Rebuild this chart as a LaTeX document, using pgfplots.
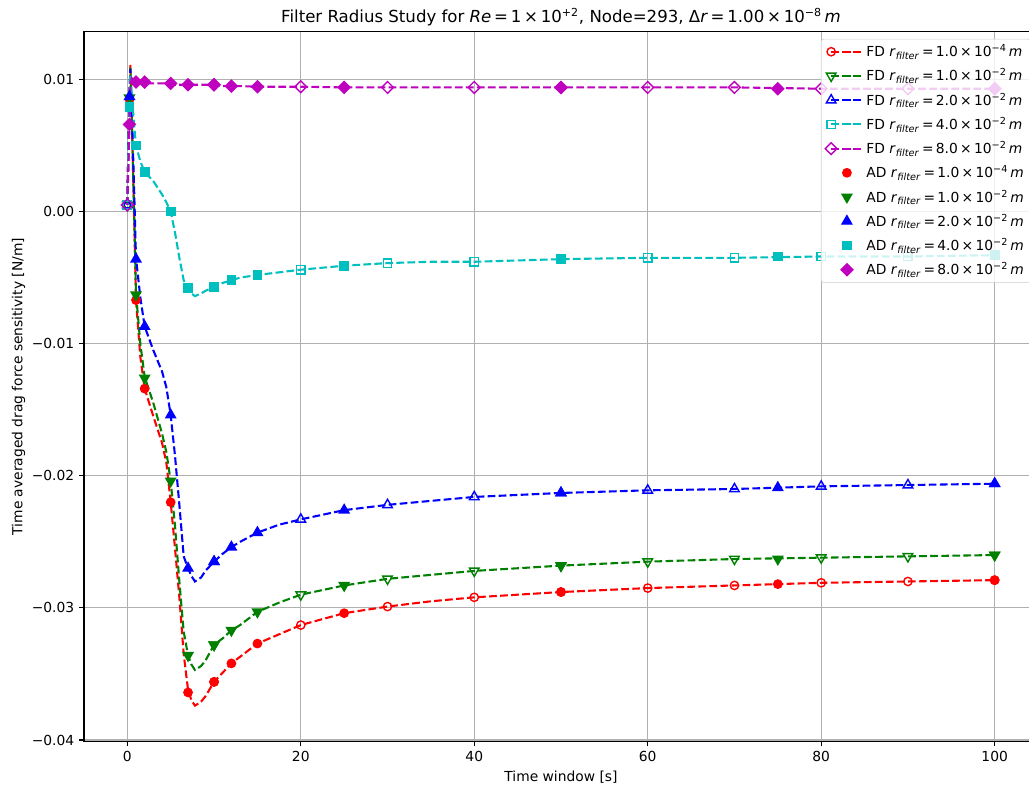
\documentclass[border=0pt]{standalone}
\usepackage{fontspec}
\setmainfont{DejaVu Sans}
\usepackage{pgfplots}
\usepackage{pgfplotstable}
\pgfplotsset{compat=1.18}
\definecolor{mplg}{rgb}{0,0.5,0}
\definecolor{mplc}{rgb}{0,0.75,0.75}
\definecolor{mplm}{rgb}{0.75,0,0.75}
\definecolor{gridc}{rgb}{0.69,0.69,0.69}
\newcommand{\rf}[2]{\textit{r}\textsubscript{\textit{filter}}\,=\,#1\,×\,10\textsuperscript{−#2}\,\textit{m}}

\pgfplotstableread{
x     r        g        b        c        m
0     0.0005   0.0005   0.0005   0.0005   0.0005
0.1   0.0040   0.0040   0.0040   0.0040   0.0030
0.25  0.0085   0.0086   0.0087   0.0079   0.0066
0.35  0.0111   0.0109   0.0108   0.0104   0.0095
0.5   0.0075   0.0075   0.0080   0.0090   0.0101
0.75  0.0005   0.0008   0.0025   0.0068   0.0099
1     -0.0067  -0.0062  -0.0035  0.0050   0.0098
1.5   -0.0110  -0.0100  -0.0065  0.0038   0.0098
2     -0.0134  -0.0125  -0.0087  0.0030   0.0097
3     -0.0155  -0.0145  -0.0105  0.0023   0.0097
4     -0.0175  -0.0168  -0.0121  0.0013   0.0097
4.5   -0.0190  -0.0182  -0.0133  0.0007   0.0097
5     -0.0220  -0.0204  -0.0154  0.0000   0.0097
5.5   -0.0255  -0.0238  -0.0185  -0.0016  0.0096
6     -0.0292  -0.0280  -0.0222  -0.0035  0.0096
6.5   -0.0335  -0.0318  -0.0261  -0.0052  0.0096
7     -0.0362  -0.0336  -0.0270  -0.0058  0.0096
7.4   -0.0370  -0.0343  -0.0276  -0.0062  0.0096
7.8   -0.0374  -0.0347  -0.0280  -0.0064  0.0096
8.5   -0.0371  -0.0344  -0.0277  -0.0062  0.0096
9     -0.0367  -0.0340  -0.0272  -0.0060  0.0096
10    -0.0356  -0.0328  -0.0265  -0.0057  0.0096
11    -0.0349  -0.0323  -0.0259  -0.0054  0.0095
12    -0.0342  -0.0317  -0.0254  -0.0052  0.0095
13    -0.0337  -0.0313  -0.0250  -0.0050  0.0095
15    -0.0327  -0.0303  -0.0243  -0.0048  0.00945
17.5  -0.0320  -0.0296  -0.0237  -0.0046  0.00945
20    -0.0313  -0.0290  -0.0233  -0.0044  0.00945
25    -0.0304  -0.0283  -0.0226  -0.0041  0.0094
30    -0.0299  -0.0278  -0.0222  -0.0039  0.0094
35    -0.0295  -0.0275  -0.0219  -0.0038  0.0094
40    -0.0292  -0.0272  -0.0216  -0.0038  0.0094
50    -0.0288  -0.0268  -0.0213  -0.0036  0.0094
60    -0.0285  -0.0265  -0.0211  -0.0035  0.0094
70    -0.0283  -0.0263  -0.0210  -0.0035  0.0094
80    -0.0281  -0.0262  -0.0208  -0.0034  0.0093
90    -0.0280  -0.0261  -0.0207  -0.0034  0.0093
100   -0.0279  -0.0260  -0.0206  -0.0033  0.0093
}\fd

\pgfplotstableread{
x     r        g        b        c        m
0.25  0.0085   0.0086   0.0087   0.0079   0.0066
1     -0.0067  -0.0063  -0.0036  0.0050   0.0098
2     -0.0134  -0.0126  -0.0087  0.0030   0.0098
5     -0.0220  -0.0204  -0.0154  0.0000   0.0097
7     -0.0364  -0.0336  -0.0270  -0.0058  0.0096
10    -0.0356  -0.0328  -0.0265  -0.0057  0.0096
12    -0.0342  -0.0317  -0.0254  -0.0052  0.0095
15    -0.0327  -0.0303  -0.0243  -0.0048  0.00945
25    -0.0304  -0.0283  -0.0226  -0.0041  0.0094
50    -0.0288  -0.0268  -0.0213  -0.0036  0.0094
75    -0.0282  -0.0263  -0.0209  -0.0034  0.0093
100   -0.0279  -0.0260  -0.0206  -0.0033  0.0093
}\ad

\begin{document}
\begin{tikzpicture}
\begin{axis}[
  scale only axis, width=687.5bp, height=511.2bp,
  xmin=-5, xmax=105, ymin=-0.0401, ymax=0.0136,
  xtick={0,20,40,60,80,100}, xticklabels={0,20,40,60,80,100},
  ytick={-0.04,-0.03,-0.02,-0.01,0,0.01},
  yticklabels={−0.04,−0.03,−0.02,−0.01,0.00,0.01},
  scaled y ticks=false,
  tick pos=left, tick align=outside, major tick length=3.5bp,
  tick style={black, line width=0.8bp},
  axis line style={line width=0.8bp},
  grid=major, major grid style={gridc, line width=0.8bp},
  tick label style={font=\fontsize{10}{12}\selectfont},
  label style={font=\fontsize{10}{12}\selectfont},
  ylabel style={xshift=0bp, yshift=-2bp},
  xlabel={Time window [s]},
  ylabel={Time averaged drag force sensitivity [N/m]},
  title={Filter Radius Study for \textit{Re}\,=\,1\,×\,10\textsuperscript{+2}, Node=293, Δ\textit{r}\,=\,1.00\,×\,10\textsuperscript{−8}\,\textit{m}},
  title style={font=\fontsize{12}{14}\selectfont, yshift=-5.5bp},
  legend image code/.code={\draw[mark repeat=2,mark phase=2,#1,fill opacity=1,draw opacity=1] plot coordinates {(0cm,0cm)(0.4cm,0cm)(0.8cm,0cm)};},
  legend style={at={(axis description cs:1,1)}, xshift=-5bp, yshift=-5bp, anchor=north east,
    draw=black!20, rounded corners=2bp, fill=white, fill opacity=0.8, text opacity=1,
    font=\fontsize{10}{12}\selectfont, row sep=3.2bp},
  legend cell align=left,
  fdline/.style={dash pattern=on 5.55bp off 2.4bp, line width=1.5bp,
    mark indices={1,22,28,30,32,33,34,35,36,37,38}},
]
\addplot[red, fdline, mark=o, mark size=3bp, mark options={solid, line width=1bp}] table[x=x,y=r]{\fd};
\addlegendentry{FD \rf{1.0}{4}}
\addplot[mplg, fdline, mark=triangle, mark size=4bp, mark options={solid, line width=1bp, rotate=180}] table[x=x,y=g]{\fd};
\addlegendentry{FD \rf{1.0}{2}}
\addplot[blue, fdline, mark=triangle, mark size=4bp, mark options={solid, line width=1bp}] table[x=x,y=b]{\fd};
\addlegendentry{FD \rf{2.0}{2}}
\addplot[mplc, fdline, mark=square, mark size=3bp, mark options={solid, line width=1bp}] table[x=x,y=c]{\fd};
\addlegendentry{FD \rf{4.0}{2}}
\addplot[mplm, fdline, mark=square, mark size=3bp, mark options={solid, line width=1bp, rotate=45}] table[x=x,y=m]{\fd};
\addlegendentry{FD \rf{8.0}{2}}
\addplot[red, only marks, mark=*, mark size=3bp, mark options={solid, line width=1bp}] table[x=x,y=r]{\ad};
\addlegendentry{AD \rf{1.0}{4}}
\addplot[mplg, only marks, mark=triangle*, mark size=4bp, mark options={solid, line width=1bp, rotate=180}] table[x=x,y=g]{\ad};
\addlegendentry{AD \rf{1.0}{2}}
\addplot[blue, only marks, mark=triangle*, mark size=4bp, mark options={solid, line width=1bp}] table[x=x,y=b]{\ad};
\addlegendentry{AD \rf{2.0}{2}}
\addplot[mplc, only marks, mark=square*, mark size=3bp, mark options={solid, line width=1bp}] table[x=x,y=c]{\ad};
\addlegendentry{AD \rf{4.0}{2}}
\addplot[mplm, only marks, mark=square*, mark size=3bp, mark options={solid, line width=1bp, rotate=45}] table[x=x,y=m]{\ad};
\addlegendentry{AD \rf{8.0}{2}}
\end{axis}
\pgfresetboundingbox
\useasboundingbox ([xshift=-60.5bp,yshift=-32.4bp]current axis.south west) rectangle ([xshift=-6.5bp,yshift=23bp]current axis.north east);
\end{tikzpicture}
\end{document}
